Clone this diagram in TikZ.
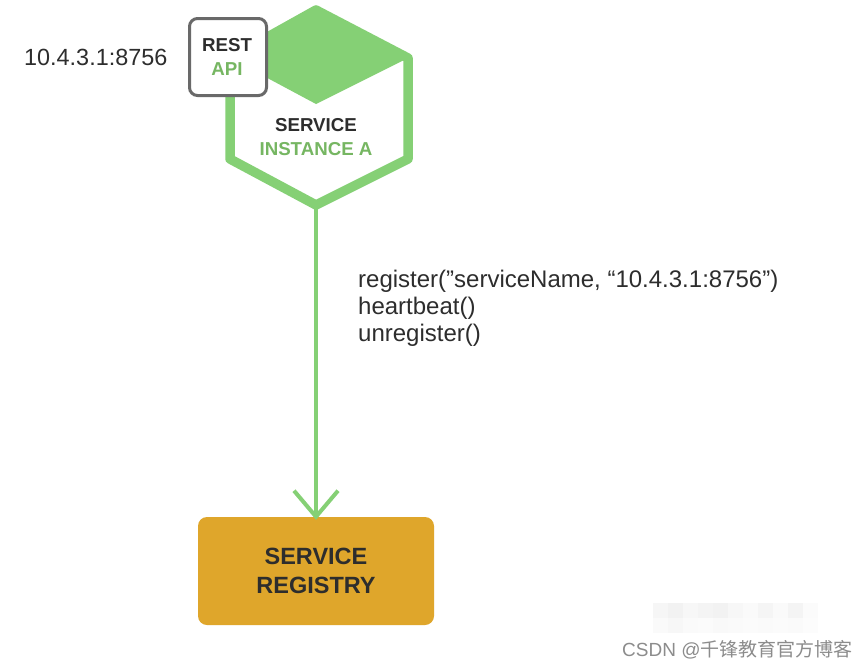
\documentclass[tikz,border=0pt]{standalone}
\usepackage{fontspec}
\setmainfont{Liberation Sans}
\newfontfamily\cjk{Noto Sans CJK SC}
\usetikzlibrary{arrows.meta}
\definecolor{hexgreen}{RGB}{133,208,117}
\definecolor{txtgreen}{RGB}{118,182,98}
\definecolor{boxgray}{RGB}{105,105,105}
\definecolor{txtdark}{RGB}{45,45,45}
\definecolor{regold}{RGB}{223,166,43}
\definecolor{wmgray}{RGB}{140,140,140}
\tikzset{
  hexline/.style={draw=hexgreen, line width=9.5pt, line join=round},
  boldlbl/.style={font=\bfseries\fontsize{18.7}{20}\selectfont},
  codelbl/.style={anchor=base west, text=txtdark, font=\fontsize{24}{27}\selectfont, inner sep=0pt},
  flow/.style={draw=hexgreen, line width=4pt, -{Straight Barb[length=26pt,width=44pt]}},
}
\begin{document}
\begin{tikzpicture}[x=1pt,y=-1pt]
\useasboundingbox (0,0) rectangle (868,667);
\fill[white] (0,0) rectangle (868,667);
% hexagon
\coordinate (ht) at (316,10);
\coordinate (hur) at (408,58);
\coordinate (hlr) at (408,159);
\coordinate (hb) at (316,205);
\coordinate (hll) at (230,159);
\coordinate (hul) at (230,58);
\coordinate (hc) at (316,104);
\fill[hexgreen, line join=round] (ht) -- (hur) -- (hc) -- (hul) -- cycle;
\draw[hexline] (ht) -- (hur) -- (hlr) -- (hb) -- (hll) -- (hul) -- cycle;
\node[boldlbl, text=txtdark] (svc) at (316,125) {SERVICE};
\node[boldlbl, text=txtgreen] (inst) at (316,149) {INSTANCE A};
% REST API box
\node[draw=boxgray, line width=3pt, fill=white, rounded corners=8pt,
      minimum width=77pt, minimum height=77pt] (rest) at (228,57) {};
\node[boldlbl, text=txtdark] (restt) at (227,45) {REST};
\node[boldlbl, text=txtgreen] (api) at (227,69) {API};
\node[anchor=west, text=txtdark, font=\fontsize{23.4}{24}\selectfont, inner sep=0pt] (ip) at (24,57) {10.4.3.1:8756};
% registry
\node[fill=regold, rounded corners=9pt, minimum width=236pt, minimum height=108pt,
      align=center, text=txtdark, font=\bfseries\fontsize{23.5}{29}\selectfont] (reg) at (316,571) {SERVICE\\REGISTRY};
\draw[flow] (hb) -- ([yshift=-3pt]reg.north);
% labels
\node[codelbl] (l1) at (358,287) {register(”serviceName, “10.4.3.1:8756”)};
\node[codelbl] (l2) at (358,314) {heartbeat()};
\node[codelbl] (l3) at (358,341) {unregister()};
% watermark
\foreach \i/\a/\b in {0/7/4,1/10/6,2/6/4,3/9/3,4/10/5,5/6/4,6/4/3,7/8/4,8/4/3,9/9/4,10/3/2}{
  \fill[gray!\a] (653+15*\i,603) rectangle ++(15,15);
  \fill[gray!\b] (653+15*\i,618) rectangle ++(15,15);
}
\node[anchor=base west, inner sep=0pt, text=wmgray, font=\fontsize{19}{20}\selectfont] (wm) at (622,656) {CSDN @{\cjk 千锋教育官方博客}};
\end{tikzpicture}
\end{document}
